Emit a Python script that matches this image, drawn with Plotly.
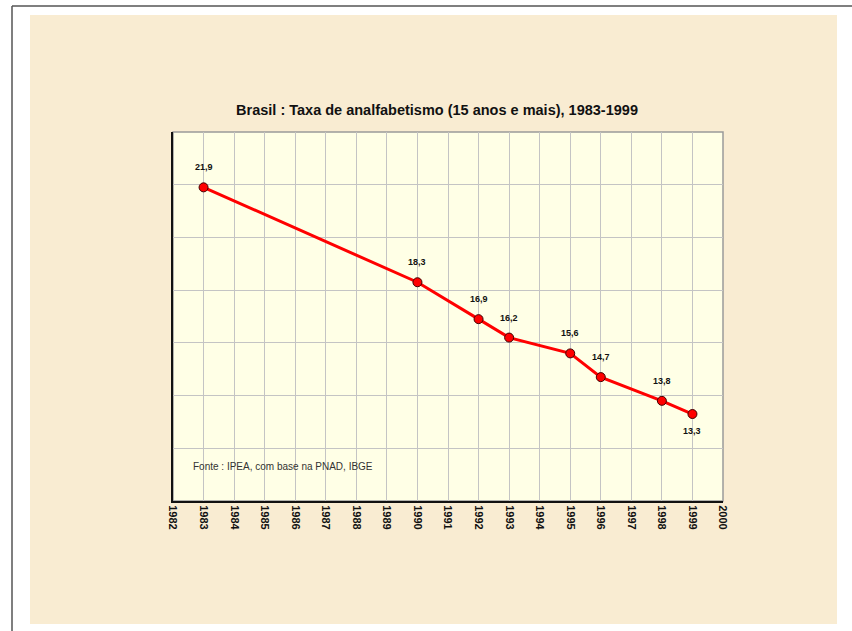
import plotly.graph_objects as go

# Brasil: taxa de analfabetismo (15 anos e mais)
years = [1983, 1990, 1992, 1993, 1995, 1996, 1998, 1999]
rates = [21.9, 18.3, 16.9, 16.2, 15.6, 14.7, 13.8, 13.3]
x_ticks = list(range(1982, 2001))

title = "Brasil : Taxa de analfabetismo (15 anos e mais), 1983-1999"
source = "Fonte : IPEA, com base na PNAD, IBGE"

W, H = 852, 631
# plot area in pixels
L, R, T, B = 173, 723, 132, 501


def px(x):
    return (x - L) / (R - L)


def py(y):
    return (B - y) / (B - T)


fig = go.Figure()
fig.add_trace(go.Scatter(
    x=years, y=rates, mode="lines+markers",
    line=dict(color="#FF0000", width=3),
    marker=dict(size=9, color="#FF0000", line=dict(color="#400000", width=1)),
    hoverinfo="x+y", showlegend=False,
))

label_font = dict(family="Liberation Sans", size=9, color="#111", weight="bold")
for yr, v in zip(years, rates):
    below = yr == years[-1]
    fig.add_annotation(
        x=yr, y=v, text=f"{v:.1f}".replace(".", ","), showarrow=False,
        yshift=-17 if below else 20, font=label_font,
    )

fig.add_annotation(
    xref="paper", yref="paper", x=px(191), y=py(466), xanchor="left", yanchor="middle",
    text=source, showarrow=False,
    font=dict(family="Liberation Sans", size=10, color="#333"),
)

shapes = [
    # parchment background
    dict(type="rect", xref="paper", yref="paper", x0=px(30), x1=px(837), y0=py(624), y1=py(15),
         fillcolor="#F9ECD2", line=dict(width=0), layer="below"),
    # plot area
    dict(type="rect", xref="paper", yref="paper", x0=0, x1=1, y0=0, y1=1,
         fillcolor="#FFFFE6", line=dict(color="#9A9A9A", width=1.5), layer="below"),
    # page frame
    dict(type="line", xref="paper", yref="paper", x0=px(12), x1=px(852), y0=py(6), y1=py(6),
         line=dict(color="#555", width=1.5)),
    dict(type="line", xref="paper", yref="paper", x0=px(12), x1=px(12), y0=py(6), y1=py(631),
         line=dict(color="#555", width=1.5)),
]

fig.update_layout(
    width=W, height=H,
    margin=dict(l=L, r=W - R, t=T, b=H - B),
    paper_bgcolor="white", plot_bgcolor="rgba(0,0,0,0)",
    shapes=shapes,
    title=dict(text=title, x=437 / W, y=1 - 110 / H, xanchor="center", yanchor="middle",
               font=dict(family="Liberation Sans", size=14.5, color="#111", weight="bold")),
)
fig.update_xaxes(
    range=[1982, 2000], tickvals=x_ticks, ticktext=[str(t) for t in x_ticks],
    tickangle=90, tickfont=dict(family="Liberation Sans", size=11, color="#111", weight="bold"),
    showgrid=True, gridcolor="#C4C4C4", gridwidth=1,
    showline=True, linecolor="#111", linewidth=2, zeroline=False, ticks="",
)
fig.update_yaxes(
    range=[10, 24], dtick=2, showticklabels=False,
    showgrid=True, gridcolor="#C4C4C4", gridwidth=1,
    showline=True, linecolor="#111", linewidth=1.5, zeroline=False, ticks="",
)

# page body has a default margin; drop it so the figure sits at the window corner
fig.write_html("out.html", config={"displayModeBar": False},
               post_script="document.body.style.margin='0';")
